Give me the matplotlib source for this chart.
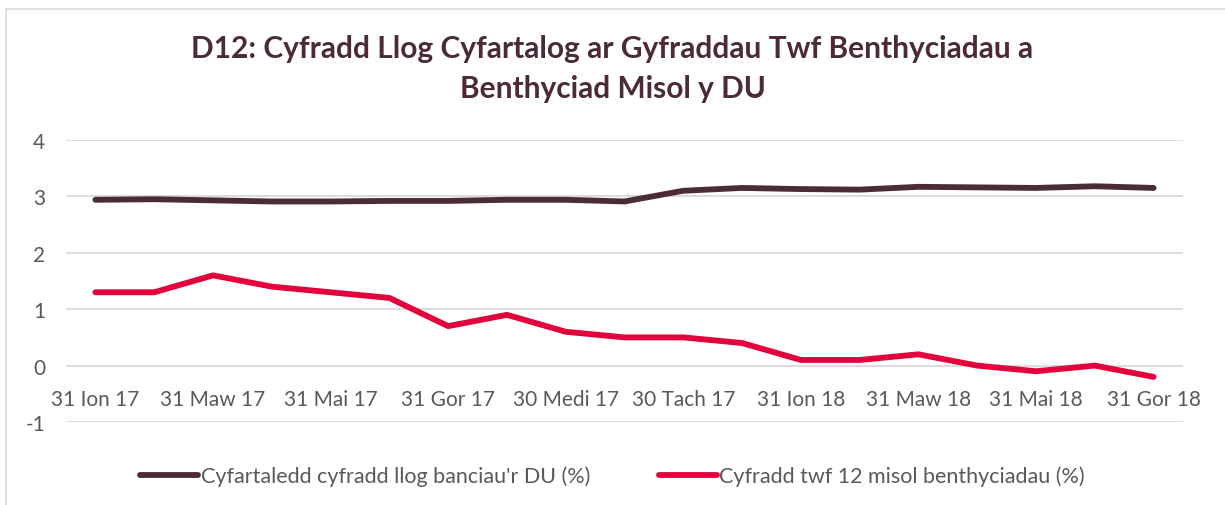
"""D12 chart: average interest rate vs 12-month lending growth, UK"""
import matplotlib
matplotlib.use("Agg")
from matplotlib import pyplot as plt
from matplotlib.patches import Rectangle

# monthly values, Jan 2017 - Jul 2018
months = ["31 Ion 17", "28 Chwe 17", "31 Maw 17", "30 Ebr 17", "31 Mai 17",
          "30 Meh 17", "31 Gor 17", "31 Awst 17", "30 Medi 17", "31 Hyd 17",
          "30 Tach 17", "31 Rhag 17", "31 Ion 18", "28 Chwe 18", "31 Maw 18",
          "30 Ebr 18", "31 Mai 18", "30 Meh 18", "31 Gor 18"]
rate = [2.94, 2.95, 2.93, 2.91, 2.91, 2.92, 2.92, 2.94, 2.94, 2.91,
        3.10, 3.15, 3.13, 3.12, 3.17, 3.16, 3.15, 3.18, 3.15]
growth = [1.3, 1.3, 1.6, 1.4, 1.3, 1.2, 0.7, 0.9, 0.6, 0.5,
          0.5, 0.4, 0.1, 0.1, 0.2, 0.0, -0.1, 0.0, -0.2]
rate_label = "Cyfartaledd cyfradd llog banciau'r DU (%)"
growth_label = "Cyfradd twf 12 misol benthyciadau (%)"
title = ("D12: Cyfradd Llog Cyfartalog ar Gyfraddau Twf Benthyciadau a\n"
         "Benthyciad Misol y DU")

DARK = "#4a2b36"
RED = "#e4003b"
GREY = "#595959"
FONT = "Lato"
plt.rcParams["axes.unicode_minus"] = False


def main():
    fig = plt.figure(figsize=(12.25, 5.06), dpi=100)
    # chart frame, cut by the image edges like the original
    fig.patches.append(Rectangle((6 / 1225, -0.1), 1.2, 1.1 - 10 / 506,
                                 transform=fig.transFigure, fill=False,
                                 edgecolor="#d9d9d9", linewidth=1.2))

    ax = fig.add_axes([66 / 1225, 1 - 423 / 506, 1117 / 1225, 282 / 506])
    x = list(range(len(months)))
    ax.plot(x, rate, color=DARK, linewidth=4.2, solid_capstyle="round",
            label=rate_label)
    ax.plot(x, growth, color=RED, linewidth=4.2, solid_capstyle="round",
            label=growth_label)

    ax.set_xlim(-0.5, len(months) - 0.5)
    ax.set_ylim(-1, 4)
    ax.set_yticks([-1, 0, 1, 2, 3, 4])
    ax.grid(axis="y", color="#d9d9d9", linewidth=1.3)
    ax.set_axisbelow(True)
    for side in ["top", "right", "left"]:
        ax.spines[side].set_visible(False)
    ax.spines["bottom"].set_position(("data", 0))
    ax.spines["bottom"].set_visible(False)

    ax.set_xticks(x[::2])
    ax.set_xticklabels(months[::2])
    ax.tick_params(axis="both", length=0, labelsize=15, labelcolor=GREY)
    ax.tick_params(axis="x", pad=17)
    ax.tick_params(axis="y", pad=15)
    for lbl in ax.get_xticklabels() + ax.get_yticklabels():
        lbl.set_fontfamily(FONT)

    fig.text(0.5, 1 - 69 / 506, title, ha="center", va="center",
             fontsize=21.5, fontweight="bold", color=DARK, family=FONT,
             linespacing=1.5)

    leg = fig.legend(loc="center", bbox_to_anchor=(0.5, 1 - 477 / 506),
                     ncol=2, frameon=False, handlelength=2.7,
                     handletextpad=0.1, columnspacing=3.2,
                     prop={"family": FONT, "size": 15.5})
    for t in leg.get_texts():
        t.set_color(GREY)

    fig.savefig("out.png", dpi=100)


if __name__ == '__main__':
    main()
